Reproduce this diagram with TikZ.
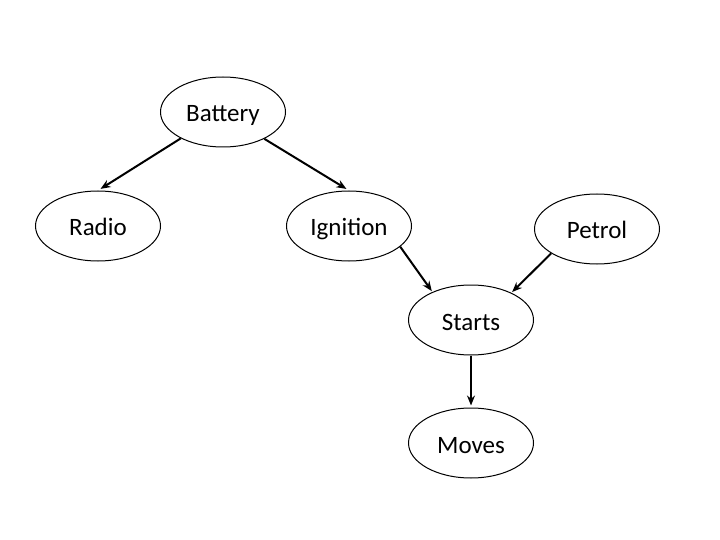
\documentclass[tikz,border=0pt]{standalone}
\usepackage{fontspec}
\setmainfont{Carlito}
\usetikzlibrary{shapes.geometric,arrows.meta}
\begin{document}
\begin{tikzpicture}[x=1pt,y=-1pt,
  ev/.style={ellipse,draw,line width=1pt,minimum width=125pt,minimum height=70pt,inner sep=0pt,text height=20pt,text depth=0pt,font=\fontsize{25}{28}\selectfont},
  arr/.style={-{Stealth[length=10pt,width=8pt]},line width=2pt}]
\useasboundingbox (0,0) rectangle (720,540);
\node[ev] (battery) at (223,112) {Battery};
\node[ev] (radio) at (98,226) {Radio};
\node[ev] (ignition) at (349,226) {Ignition};
\node[ev] (petrol) at (597,229) {Petrol};
\node[ev] (starts) at (471,320) {Starts};
\node[ev] (moves) at (471,443) {Moves};
\draw[arr,shorten >=3pt] (battery.212) -- (radio.north);
\draw[arr,shorten >=3pt] (battery.327) -- (ignition.north);
\draw[arr,shorten >=1pt] (ignition.338) -- (starts.144);
\draw[arr,shorten >=1pt] (petrol.208) -- (starts.34);
\draw[arr,shorten >=2pt] (starts.south) -- (moves.north);
\end{tikzpicture}
\end{document}
